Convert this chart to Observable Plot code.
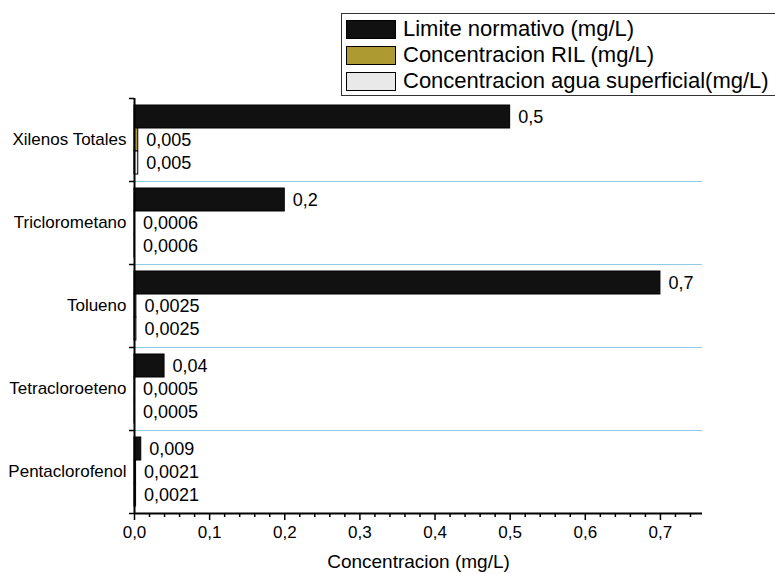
<!DOCTYPE html>
<html><head><meta charset="utf-8">
<script src="https://cdn.jsdelivr.net/npm/d3@7"></script>
<script src="https://cdn.jsdelivr.net/npm/@observablehq/plot@0.6"></script>
<style>
body{margin:0;background:#fff;font-family:"Liberation Sans",Arial,sans-serif;}
#wrap{position:relative;width:775px;height:574px;overflow:hidden;}
#legend{position:absolute;left:341px;top:13px;width:445px;height:83px;border:1.5px solid #333;box-sizing:border-box;background:#fff;}
.row{position:absolute;left:4px;height:20px;display:flex;align-items:center;font-size:22px;white-space:nowrap;color:#000;}
.sw{width:50px;height:19px;border:1px solid #000;box-sizing:border-box;margin-right:7px;flex:none;}
</style></head>
<body><div id="wrap"><div id="chart"></div><div id="legend"></div></div>
<script>
const categories = ["Xilenos Totales", "Triclorometano", "Tolueno", "Tetracloroeteno", "Pentaclorofenol"];
const series = ["Limite normativo (mg/L)", "Concentracion RIL (mg/L)", "Concentracion agua superficial(mg/L)"];
const limiteNormativo = [0.5, 0.2, 0.7, 0.04, 0.009];
const concentracionRIL = [0.005, 0.0006, 0.0025, 0.0005, 0.0021];
const concentracionAgua = [0.005, 0.0006, 0.0025, 0.0005, 0.0021];
const xTicks = [0, 0.1, 0.2, 0.3, 0.4, 0.5, 0.6, 0.7];
const colors = ["#111111", "#ad9a30", "#e9e9e9"];

const values = [limiteNormativo, concentracionRIL, concentracionAgua];
const pad = 7 / 83, h = 23 / 83;
const data = [];
categories.forEach((c, i) => {
  values.forEach((arr, j) => {
    const y1 = i + pad + j * h;
    data.push({cat: c, i, j, value: arr[i], y1, y2: y1 + h, ym: y1 + h / 2});
  });
});
const comma = v => String(v).replace(".", ",");
const minor = d3.range(0, 0.75, 0.02).filter(v => Math.abs(v * 10 - Math.round(v * 10)) > 1e-6);

const chart = Plot.plot({
  width: 775, height: 574,
  marginLeft: 134, marginRight: 73, marginTop: 98, marginBottom: 61,
  style: {fontFamily: "'Liberation Sans', Arial, sans-serif", color: "#000"},
  x: {domain: [0, 0.756]},
  y: {domain: [0, 5], reverse: true},
  color: {type: "identity"},
  marks: [
    Plot.ruleY([1, 2, 3, 4], {stroke: "#8fcbe3", strokeWidth: 1}),
    Plot.rect(data, {x1: () => 0, x2: "value", y1: "y1", y2: "y2", fill: d => colors[d.j], stroke: "#000", strokeWidth: 1}),
    Plot.text(data, {x: "value", y: "ym", text: d => comma(d.value), textAnchor: "start", dx: 8, fontSize: 18, fill: "#000"}),
    Plot.ruleX([0], {y1: 0, y2: 5, strokeWidth: 2, stroke: "#000"}),
    Plot.ruleY([5], {strokeWidth: 2, stroke: "#000"}),
    Plot.axisX({ticks: xTicks, tickSize: 7, tickPadding: 5, tickFormat: d => d3.format(".1f")(d).replace(".", ","), fontSize: 17, fontFamily: "'Liberation Sans Narrow', 'Arial Narrow', 'Liberation Sans', sans-serif", strokeWidth: 1.5, label: null}),
    Plot.axisX({ticks: minor, tickSize: 4, tickFormat: () => "", strokeWidth: 1.5, label: null}),
    Plot.axisY({ticks: [0, 1, 2, 3, 4, 5], tickSize: 5, tickFormat: () => "", strokeWidth: 1.5, label: null}),
    Plot.axisY({ticks: [0.5, 1.5, 2.5, 3.5, 4.5], tickSize: 0, tickPadding: 8, tickFormat: d => categories[Math.floor(d)], fontSize: 17, label: null}),
    Plot.text(["Concentracion (mg/L)"], {frameAnchor: "bottom", dy: 54, fontSize: 19, fill: "#000"})
  ]
});
document.getElementById("chart").appendChild(chart);

const legend = document.getElementById("legend");
series.forEach((s, j) => {
  const row = document.createElement("div");
  row.className = "row";
  row.style.top = (5 + j * 26) + "px";
  const sw = document.createElement("div");
  sw.className = "sw";
  sw.style.background = colors[j];
  row.appendChild(sw);
  const t = document.createElement("span");
  t.textContent = s;
  row.appendChild(t);
  legend.appendChild(row);
});
</script>
</body></html>
